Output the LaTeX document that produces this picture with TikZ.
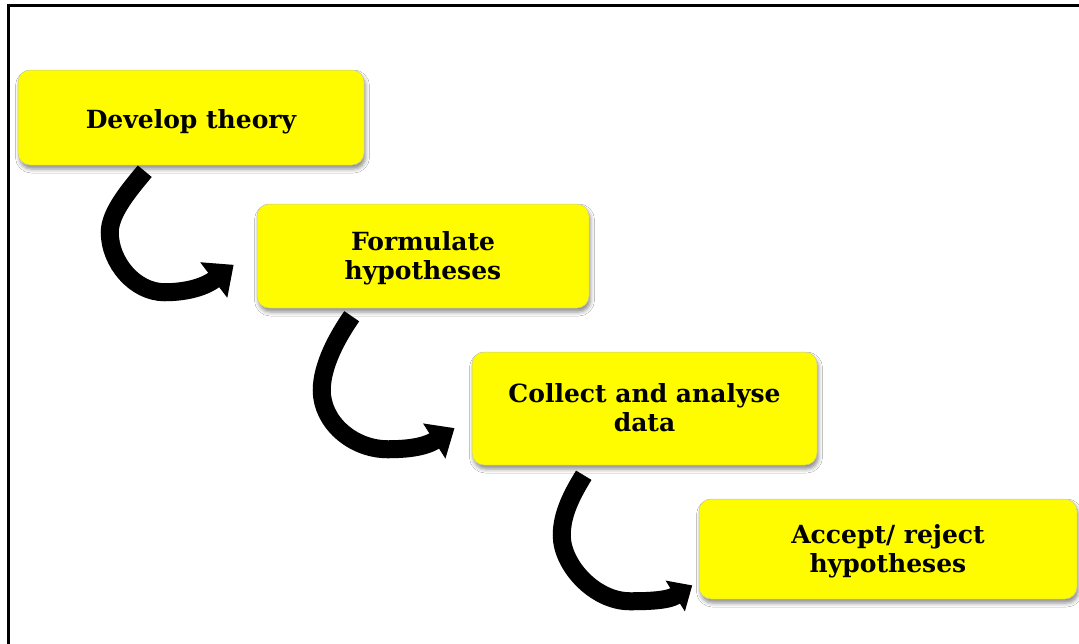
\documentclass[tikz,border=0pt]{standalone}
\usepackage{fontspec}
\setmainfont{DejaVu Serif}
\usetikzlibrary{arrows.meta,calc,shadows.blur}

\definecolor{boxyellow}{RGB}{255,252,0}
\definecolor{boxedge}{RGB}{200,200,160}

% centred stage label, lowered a little inside its box
\newcommand{\stagetext}[2][4pt]{\raisebox{-#1}[\height][\depth]{\begin{tabular}{@{}c@{}}#2\end{tabular}}}

\begin{document}
\begin{tikzpicture}[x=1pt,y=-1pt,
  stepbox/.style={rectangle, rounded corners=12pt, fill=boxyellow,
    draw=boxedge, line width=0.5pt, inner sep=0pt,
    font=\bfseries\fontsize{25}{29}\selectfont,
    blur shadow={shadow xshift=1.5pt, shadow yshift=-4pt,
      shadow blur radius=4pt, shadow opacity=45}},
  % the curve is given up to the base of the head; the head is added beyond it
  bendarrow/.style 2 args={line width=18pt, line cap=butt, black,
    -{Triangle[width=#1, length=#2]}, shorten >=-#2},
  bendshade/.style 2 args={bendarrow={#1}{#2}, opacity=0.16,
    xshift=2.5pt, yshift=-3.5pt},
  frame/.style={line width=3pt, black}]

\path[use as bounding box, clip] (0,0) rectangle (1079,643);
\fill[white] (0,0) rectangle (1079,643);

% outer frame (right and bottom sides lie beyond the page)
\draw[frame] (8,5) rectangle (1200,760);

% the four stages
\node[stepbox, minimum width=346pt, minimum height=95pt]  (d1) at (191,117.5)   {\stagetext[5pt]{Develop theory}};
\node[stepbox, minimum width=332pt, minimum height=104pt] (d2) at (423,256)     {\stagetext[3.5pt]{Formulate\\hypotheses}};
\node[stepbox, minimum width=345pt, minimum height=113pt] (d3) at (644.5,408.5) {\stagetext[3pt]{Collect and analyse\\data}};
\node[stepbox, minimum width=378pt, minimum height=100pt] (d4) at (888,549)     {\stagetext[3.5pt]{Accept/ reject\\hypotheses}};

% tail, leftmost point, lowest point and head base of each curved arrow
\coordinate (t1) at ($(d1.south west)+(127,6)$);
\coordinate (l1) at ($(t1)+(-35,61)$);
\coordinate (b1) at ($(t1)+(20,121)$);
\coordinate (e1) at ($(d2.west)+(-43,24)$);
\coordinate (t2) at ($(d2.south west)+(95,8)$);
\coordinate (l2) at ($(t2)+(-30,74)$);
\coordinate (b2) at ($(t2)+(36,133)$);
\coordinate (e2) at ($(d3.west)+(-37.5,32.5)$);
\coordinate (t3) at ($(d3.south west)+(112,10)$);
\coordinate (l3) at ($(t3)+(-22,60)$);
\coordinate (b3) at ($(t3)+(46,126)$);
\coordinate (e3) at ($(d4.west)+(-23.5,47)$);

% soft shadows under the arrows
\draw[bendshade={43pt}{25pt}] (t1) .. controls +(-14,17) and +(0,-20) .. (l1) .. controls +(0,30) and +(-30,0) .. (b1) .. controls +(18,0) and +(-11,8.4) .. (e1);
\draw[bendshade={40pt}{24pt}] (t2) .. controls +(-14,20) and +(0,-25) .. (l2) .. controls +(0,32) and +(-35,0) .. (b2) .. controls +(15,0) and +(-11,7) .. (e2);
\draw[bendshade={35pt}{20pt}] (t3) .. controls +(-11,18) and +(0,-22) .. (l3) .. controls +(0,30) and +(-35,0) .. (b3) .. controls +(15,0) and +(-8,5) .. (e3);

% curved arrows from one stage to the next
\draw[bendarrow={43pt}{25pt}] (t1) .. controls +(-14,17) and +(0,-20) .. (l1) .. controls +(0,30) and +(-30,0) .. (b1) .. controls +(18,0) and +(-11,8.4) .. (e1);
\draw[bendarrow={40pt}{24pt}] (t2) .. controls +(-14,20) and +(0,-25) .. (l2) .. controls +(0,32) and +(-35,0) .. (b2) .. controls +(15,0) and +(-11,7) .. (e2);
\draw[bendarrow={35pt}{20pt}] (t3) .. controls +(-11,18) and +(0,-22) .. (l3) .. controls +(0,30) and +(-35,0) .. (b3) .. controls +(15,0) and +(-8,5) .. (e3);

\end{tikzpicture}
\end{document}
